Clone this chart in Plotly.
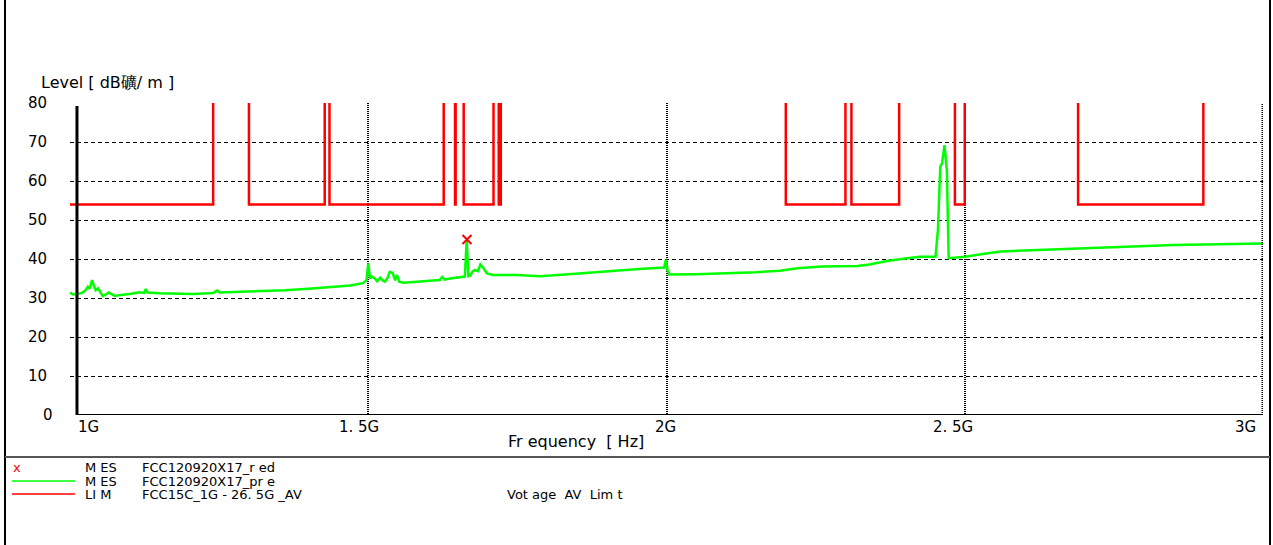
import plotly.graph_objects as go

# measured trace (green), frequency in GHz, level in dB
mes_freq = [
    1.000, 1.005, 1.012, 1.020, 1.026, 1.030, 1.033, 1.037, 1.040, 1.043,
    1.047, 1.050, 1.055, 1.060, 1.065, 1.070, 1.075, 1.085, 1.100, 1.117,
    1.124, 1.127, 1.130, 1.150, 1.180, 1.206, 1.240, 1.247, 1.251, 1.300,
    1.320, 1.360, 1.400, 1.440, 1.470, 1.491, 1.497, 1.500, 1.503, 1.506,
    1.511, 1.515, 1.520, 1.524, 1.528, 1.532, 1.536, 1.541, 1.545, 1.548,
    1.552, 1.559, 1.570, 1.581, 1.600, 1.620, 1.624, 1.628, 1.637, 1.650,
    1.662, 1.665, 1.668, 1.671, 1.675, 1.679, 1.684, 1.688, 1.693, 1.699,
    1.709, 1.749, 1.788, 1.830, 1.870, 1.920, 1.960, 1.996, 1.999, 2.002,
    2.005, 2.050, 2.100, 2.150, 2.190, 2.220, 2.260, 2.320, 2.340, 2.370,
    2.400, 2.425, 2.451, 2.455, 2.459, 2.462, 2.466, 2.467, 2.470, 2.473,
    2.500, 2.530, 2.560, 2.600, 2.650, 2.700, 2.750, 2.800, 2.850, 2.900,
    2.950, 3.000,
]
mes_level = [
    31.4, 30.9, 31.0, 31.3, 32.0, 32.9, 32.4, 34.6, 33.2, 32.0,
    32.5, 31.8, 30.5, 30.9, 31.4, 31.0, 30.5, 30.8, 31.0, 31.5,
    31.3, 32.3, 31.4, 31.2, 31.0, 31.0, 31.3, 31.9, 31.4, 31.6,
    31.7, 32.0, 32.4, 32.8, 33.2, 33.8, 34.5, 38.9, 35.0, 35.5,
    35.0, 34.3, 35.2, 34.5, 34.2, 35.0, 36.7, 36.4, 34.5, 35.9,
    34.2, 33.9, 34.0, 34.2, 34.4, 34.6, 35.4, 34.7, 35.0, 35.2,
    35.5, 44.9, 35.6, 35.7, 36.8, 37.2, 36.9, 38.6, 37.7, 36.3,
    35.9, 35.9, 35.6, 36.0, 36.5, 37.0, 37.5, 37.8, 39.8, 37.0,
    36.0, 36.1, 36.3, 36.6, 37.0, 37.6, 38.1, 38.2, 38.6, 39.5,
    40.1, 40.6, 40.6, 47.4, 63.7, 64.5, 69.2, 67.9, 62.8, 40.2,
    40.6, 41.3, 41.9, 42.2, 42.5, 42.8, 43.1, 43.4, 43.6, 43.7,
    43.8, 44.0,
]

# final measurement point (red x)
red_freq = [1.6655]
red_level = [45.0]

# AV limit: 54 dB in restricted bands, above the chart elsewhere
lim_freq = [
    1.0, 1.24, 1.30, 1.427, 1.435, 1.6265, 1.6455, 1.6465, 1.66, 1.71,
    1.7188, 1.7222, 2.2, 2.3, 2.31, 2.39, 2.4835, 2.5, 2.69, 2.9, 3.0,
]
lim_level = [
    54, 100, 54, 100, 54, 100, 54, 100, 54, 100,
    54, 100, 54, 100, 54, 100, 54, 100, 54, 100, 100,
]

y_ticks = [10, 20, 30, 40, 50, 60, 70, 80]
x_ticks = [1.0, 1.5, 2.0, 2.5, 3.0]
x_ticktext = ["1G", "1. 5G", "2G", "2. 5G", "3G"]
x_tick_shift = [18, -9, -1, -12, -18]

FONT = "DejaVu Sans"

# plot area in page pixels
L, R, T, B = 70, 1263, 103, 415


def px_x(px):
    return (px - L) / (R - L)


def px_y(py):
    return (B - py) / (B - T)


fig = go.Figure()
fig.add_trace(go.Scatter(
    x=lim_freq, y=lim_level, mode="lines", line_shape="hv",
    line=dict(color="#ff0000", width=2.5), hoverinfo="skip",
))
fig.add_trace(go.Scatter(
    x=mes_freq, y=mes_level, mode="lines",
    line=dict(color="#00ff00", width=2.5),
))
fig.add_trace(go.Scatter(
    x=red_freq, y=red_level, mode="markers",
    marker=dict(symbol="x-thin", size=9, line=dict(color="#ff0000", width=2)),
))

fig.update_layout(
    width=1273, height=545,
    margin=dict(l=L, r=1273 - R, t=T, b=545 - B),
    paper_bgcolor="white", plot_bgcolor="white",
    showlegend=False,
    font=dict(family=FONT, size=14, color="black"),
)
fig.update_xaxes(
    range=[1.0, 3.0], tickvals=[1.5, 2.0, 2.5], showticklabels=False,
    showgrid=True, gridcolor="black", gridwidth=2, griddash="1px,1px",
    zeroline=False, showline=False, ticks="",
)
fig.update_yaxes(
    range=[0, 80], tickvals=y_ticks, ticks="",
    ticklabelstandoff=22,
    showgrid=True, gridcolor="black", gridwidth=1, griddash="4px,3px",
    zeroline=False, showline=False,
    tickfont=dict(family=FONT, size=15),
)

# right border of plot (3G) and axis lines
fig.add_shape(type="line", x0=3.0, x1=3.0, y0=0, y1=80, xref="x", yref="y",
              line=dict(color="black", width=3, dash="1px,1px"))
fig.add_shape(type="line", x0=1.0117, x1=3.0, y0=0, y1=0, xref="x", yref="y",
              line=dict(color="black", width=2))
fig.add_shape(type="line", x0=1.0117, x1=1.0117, y0=0, y1=79.2, xref="x", yref="y",
              line=dict(color="black", width=3))

# outer frame and legend separator
fig.add_shape(type="line", xref="paper", yref="paper",
              x0=px_x(5), x1=px_x(5), y0=px_y(0), y1=px_y(545),
              line=dict(color="black", width=2))
fig.add_shape(type="line", xref="paper", yref="paper",
              x0=px_x(1270), x1=px_x(1270), y0=px_y(0), y1=px_y(545),
              line=dict(color="black", width=2))
fig.add_shape(type="line", xref="paper", yref="paper",
              x0=px_x(5), x1=px_x(1270), y0=px_y(457), y1=px_y(457),
              line=dict(color="#555555", width=2))

annotations = []
annotations.append(dict(x=1.0, y=0, xref="x", yref="y", text="0", showarrow=False,
                        xanchor="right", yanchor="middle", xshift=-15,
                        font=dict(size=15)))
for v, t, s in zip(x_ticks, x_ticktext, x_tick_shift):
    annotations.append(dict(x=v, y=0, xref="x", yref="y", text=t, showarrow=False,
                            xanchor="center", yanchor="middle", xshift=s, yshift=-12,
                            font=dict(size=15)))

annotations.append(dict(x=px_x(39), y=px_y(82), xref="paper", yref="paper",
                        text="Level [ dB礦/ m ]", showarrow=False,
                        xanchor="left", yanchor="middle", font=dict(size=16)))
annotations.append(dict(x=px_x(576), y=px_y(441), xref="paper", yref="paper",
                        text="Fr equency  [ Hz]", showarrow=False,
                        xanchor="center", yanchor="middle", font=dict(size=16)))

# legend block
legend_rows = [
    (467, "M ES", "FCC120920X17_r ed", ""),
    (481, "M ES", "FCC120920X17_pr e", ""),
    (494, "LI M", "FCC15C_1G - 26. 5G _AV", "Vot age  AV  Lim t"),
]
for py, a, b, c in legend_rows:
    for px, txt in ((83, a), (140, b), (505, c)):
        if txt:
            annotations.append(dict(x=px_x(px), y=px_y(py), xref="paper", yref="paper",
                                    text=txt, showarrow=False, xanchor="left",
                                    yanchor="middle", font=dict(size=13)))
annotations.append(dict(x=px_x(17), y=px_y(467), xref="paper", yref="paper",
                        text="x", showarrow=False, xanchor="center", yanchor="middle",
                        font=dict(size=13, color="#ff0000")))
fig.update_layout(annotations=annotations)

fig.add_shape(type="line", xref="paper", yref="paper",
              x0=px_x(12), x1=px_x(75), y0=px_y(481), y1=px_y(481),
              line=dict(color="#00ff00", width=1.5))
fig.add_shape(type="line", xref="paper", yref="paper",
              x0=px_x(12), x1=px_x(75), y0=px_y(494), y1=px_y(494),
              line=dict(color="#ff0000", width=1.5))

# the page is photographed from its top-left corner, so drop the body margin
fig.write_html("out.html", config={"displayModeBar": False},
               post_script="document.body.style.margin='0px';")
